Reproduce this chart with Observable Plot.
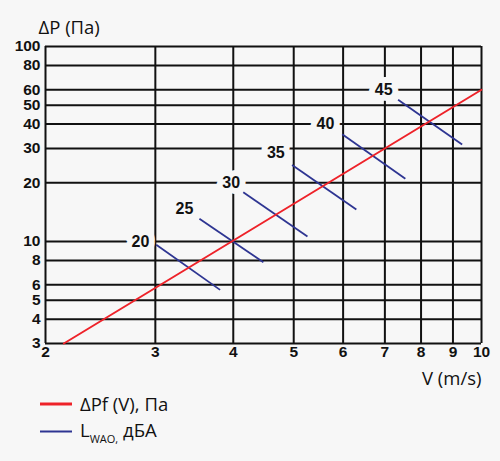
<!DOCTYPE html>
<html>
<head>
<meta charset="utf-8">
<script src="https://cdn.jsdelivr.net/npm/d3@7"></script>
<script src="https://cdn.jsdelivr.net/npm/@observablehq/plot@0.6"></script>
<style>
  html, body { margin: 0; padding: 0; background: #f7f7f7; }
  #wrap { position: relative; width: 500px; }
  #legend { position: relative; width: 500px; height: 66px; font-family: "Open Sans", sans-serif; font-size: 18.5px; color: #111; }
  .sw { position: absolute; left: 40px; width: 32px; }
  .lt { position: absolute; left: 80px; line-height: 22px; white-space: nowrap; }
  sub { font-size: 11px; vertical-align: -6px; line-height: 0; }
</style>
</head>
<body>
<div id="wrap"></div>
<script>
// Axis ticks
const xTicks = [2, 3, 4, 5, 6, 7, 8, 9, 10];
const yTicks = [3, 4, 5, 6, 8, 10, 20, 30, 40, 50, 60, 80, 100];

// Red line ΔPf(V)
const lineV = [2.14, 10];
const lineP = [3, 60];

// Blue noise level segments L_WAO (dBA)
const segLabels = ["20", "25", "30", "35", "40", "45"];
const segX1 = [3.01, 3.53, 4.15, 4.97, 5.98, 7.35];
const segY1 = [9.62, 13.1, 17.9, 24.7, 35.5, 53.3];
const segX2 = [3.81, 4.47, 5.26, 6.30, 7.55, 9.31];
const segY2 = [5.65, 7.83, 10.6, 14.6, 21.0, 31.4];
const labelX = [2.84, 3.34, 3.97, 4.68, 5.62, 6.97];
const labelY = [10, 14.7, 20, 28.6, 40, 60];

const BG = "#f7f7f7";
const RED = "#ee2229";
const BLUE = "#2e3592";

const redLine = lineV.map((v, i) => ({v, p: lineP[i]}));
const segs = segLabels.map((l, i) => ({l, x1: segX1[i], y1: segY1[i], x2: segX2[i], y2: segY2[i], lx: labelX[i], ly: labelY[i]}));

const chart = Plot.plot({
  width: 500,
  height: 395,
  marginLeft: 45,
  marginRight: 19,
  marginTop: 46,
  marginBottom: 52,
  x: {type: "log", domain: [2, 10], axis: null},
  y: {type: "log", domain: [3, 100], axis: null},
  style: {background: BG, fontFamily: "'Liberation Sans', Arial, sans-serif", fontSize: "14px", color: "#111"},
  marks: [
    Plot.ruleX(xTicks, {x: d => d, stroke: "#111", strokeWidth: 2}),
    Plot.ruleY(yTicks, {y: d => d, stroke: "#111", strokeWidth: 2}),
    Plot.link(segs, {x1: "x1", y1: "y1", x2: "x2", y2: "y2", stroke: BLUE, strokeWidth: 1.8}),
    Plot.line(redLine, {x: "v", y: "p", stroke: RED, strokeWidth: 2}),
    Plot.text(segs, {x: "lx", y: "ly", text: "l", fontWeight: "bold", fontSize: 16, fill: "#111", stroke: BG, strokeWidth: 12}),
    // x tick labels
    Plot.text(xTicks, {x: d => d, text: d => String(d), frameAnchor: "bottom", dy: 13, fontWeight: "bold", fontSize: 15.5, fill: "#111"}),
    // y tick labels
    Plot.text(yTicks, {y: d => d, text: d => String(d), frameAnchor: "left", dx: -5, textAnchor: "end", fontWeight: "bold", fontSize: 15.5, fill: "#111"}),
    Plot.text(["ΔP (Па)"], {text: d => d, frameAnchor: "top-left", dx: -7, dy: -26, textAnchor: "start", fontSize: 18.5, fontFamily: "'Open Sans', sans-serif", fill: "#111"}),
    Plot.text(["V (m/s)"], {text: d => d, frameAnchor: "bottom-right", dy: 41, textAnchor: "end", fontSize: 18.5, fontFamily: "'Open Sans', sans-serif", fill: "#111"})
  ]
});
document.getElementById("wrap").appendChild(chart);

const legend = document.createElement("div");
legend.id = "legend";
legend.innerHTML = `
  <svg class="sw" style="top:7px" width="32" height="4"><line x1="0" y1="2" x2="32" y2="2" stroke="${RED}" stroke-width="3"/></svg>
  <div class="lt" style="top:-2px">ΔPf (V), Па</div>
  <svg class="sw" style="top:35px" width="32" height="3"><line x1="0" y1="1.5" x2="32" y2="1.5" stroke="${BLUE}" stroke-width="2"/></svg>
  <div class="lt" style="top:24px">L<sub>WAO,</sub> дБА</div>
`;
document.getElementById("wrap").appendChild(legend);
</script>
</body>
</html>
